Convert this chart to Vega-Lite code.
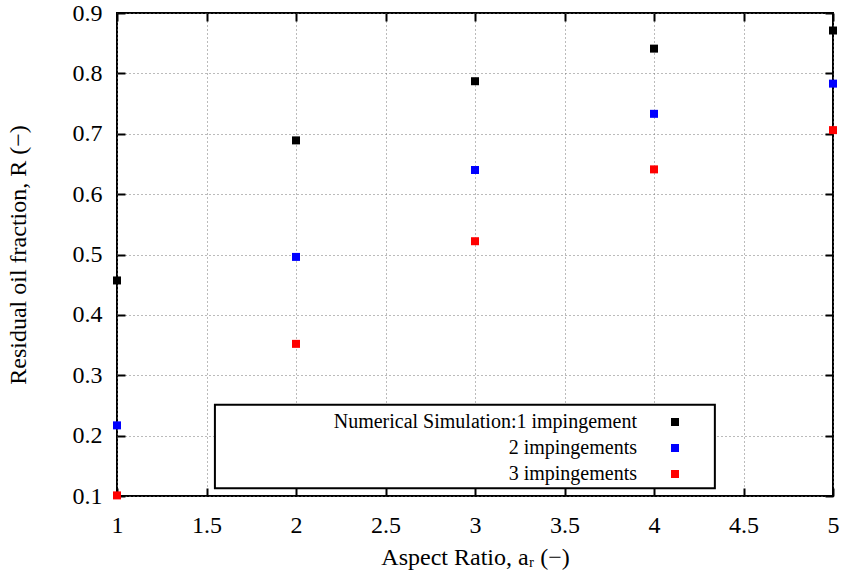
{
  "$schema": "https://vega.github.io/schema/vega-lite/v6.json",
  "width": 716,
  "height": 483,
  "autosize": {"type": "none"},
  "padding": {"left": 117, "top": 13, "right": 11, "bottom": 78},
  "background": "white",
  "config": {
    "font": "Liberation Serif",
    "view": {"stroke": "black", "strokeWidth": 2},
    "axis": {
      "labelFont": "Liberation Serif",
      "labelFontSize": 24,
      "labelColor": "black",
      "titleFont": "Liberation Serif",
      "titleFontSize": 24,
      "titleFontWeight": "normal",
      "titleColor": "black",
      "domain": false,
      "tickColor": "black",
      "tickWidth": 2,
      "tickSize": -8,
      "gridColor": "#777777",
      "gridDash": [1, 3],
      "gridWidth": 1,
      "gridOpacity": 1
    },
    "legend": {
      "labelFont": "Liberation Serif",
      "labelFontSize": 20,
      "labelColor": "black"
    }
  },
  "layer": [
    {
      "data": {"values": [{}]},
      "mark": {"type": "rect", "fill": "white", "stroke": "black", "strokeWidth": 2},
      "encoding": {
        "x": {"datum": 1.547, "type": "quantitative", "scale": {"domain": [1, 5]},
              "axis": {"orient": "top", "labels": false, "grid": false, "title": null, "values": [1, 1.5, 2, 2.5, 3, 3.5, 4, 4.5, 5]}},
        "x2": {"datum": 4.34},
        "y": {"datum": 0.251, "type": "quantitative", "scale": {"domain": [0.1, 0.9]},
              "axis": {"orient": "right", "labels": false, "grid": false, "title": null, "values": [0.1, 0.2, 0.3, 0.4, 0.5, 0.6, 0.7, 0.8, 0.9]}},
        "y2": {"datum": 0.113}
      }
    },
    {
      "data": {"values": [
        {"ar": 1, "R": 0.457, "series": "Numerical Simulation:1 impingement"},
        {"ar": 2, "R": 0.689, "series": "Numerical Simulation:1 impingement"},
        {"ar": 3, "R": 0.787, "series": "Numerical Simulation:1 impingement"},
        {"ar": 4, "R": 0.841, "series": "Numerical Simulation:1 impingement"},
        {"ar": 5, "R": 0.871, "series": "Numerical Simulation:1 impingement"},
        {"ar": 1, "R": 0.217, "series": "2 impingements"},
        {"ar": 2, "R": 0.496, "series": "2 impingements"},
        {"ar": 3, "R": 0.640, "series": "2 impingements"},
        {"ar": 4, "R": 0.733, "series": "2 impingements"},
        {"ar": 5, "R": 0.783, "series": "2 impingements"},
        {"ar": 1, "R": 0.101, "series": "3 impingements"},
        {"ar": 2, "R": 0.352, "series": "3 impingements"},
        {"ar": 3, "R": 0.522, "series": "3 impingements"},
        {"ar": 4, "R": 0.641, "series": "3 impingements"},
        {"ar": 5, "R": 0.706, "series": "3 impingements"}
      ]},
      "mark": {"type": "point", "shape": "square", "filled": true, "size": 64, "opacity": 1, "clip": false},
      "encoding": {
        "x": {"field": "ar", "type": "quantitative", "scale": {"domain": [1, 5]},
              "axis": {"orient": "bottom", "grid": true, "title": "Aspect Ratio, aᵣ (−)", "values": [1, 1.5, 2, 2.5, 3, 3.5, 4, 4.5, 5], "format": "~g", "labelPadding": 25, "titlePadding": 8, "labelFlush": false}},
        "y": {"field": "R", "type": "quantitative", "scale": {"domain": [0.1, 0.9]},
              "axis": {"orient": "left", "grid": true, "title": "Residual oil fraction, R (−)", "values": [0.1, 0.2, 0.3, 0.4, 0.5, 0.6, 0.7, 0.8, 0.9], "format": ".1f", "labelPadding": 23, "titlePadding": 42, "labelFlush": false}},
        "color": {"field": "series", "type": "nominal",
                  "scale": {"domain": ["Numerical Simulation:1 impingement", "2 impingements", "3 impingements"], "range": ["#000000", "#0000ff", "#ff0000"]},
                  "legend": {"title": null, "orient": "none", "legendX": 530, "legendY": 399, "symbolType": "square", "symbolSize": 64, "symbolStrokeWidth": 0, "labelAlign": "right", "labelOffset": -48, "symbolOffset": 18, "labelLimit": 600, "rowPadding": 6, "padding": 0}}
      }
    }
  ],
  "resolve": {"axis": {"x": "independent", "y": "independent"}}
}
